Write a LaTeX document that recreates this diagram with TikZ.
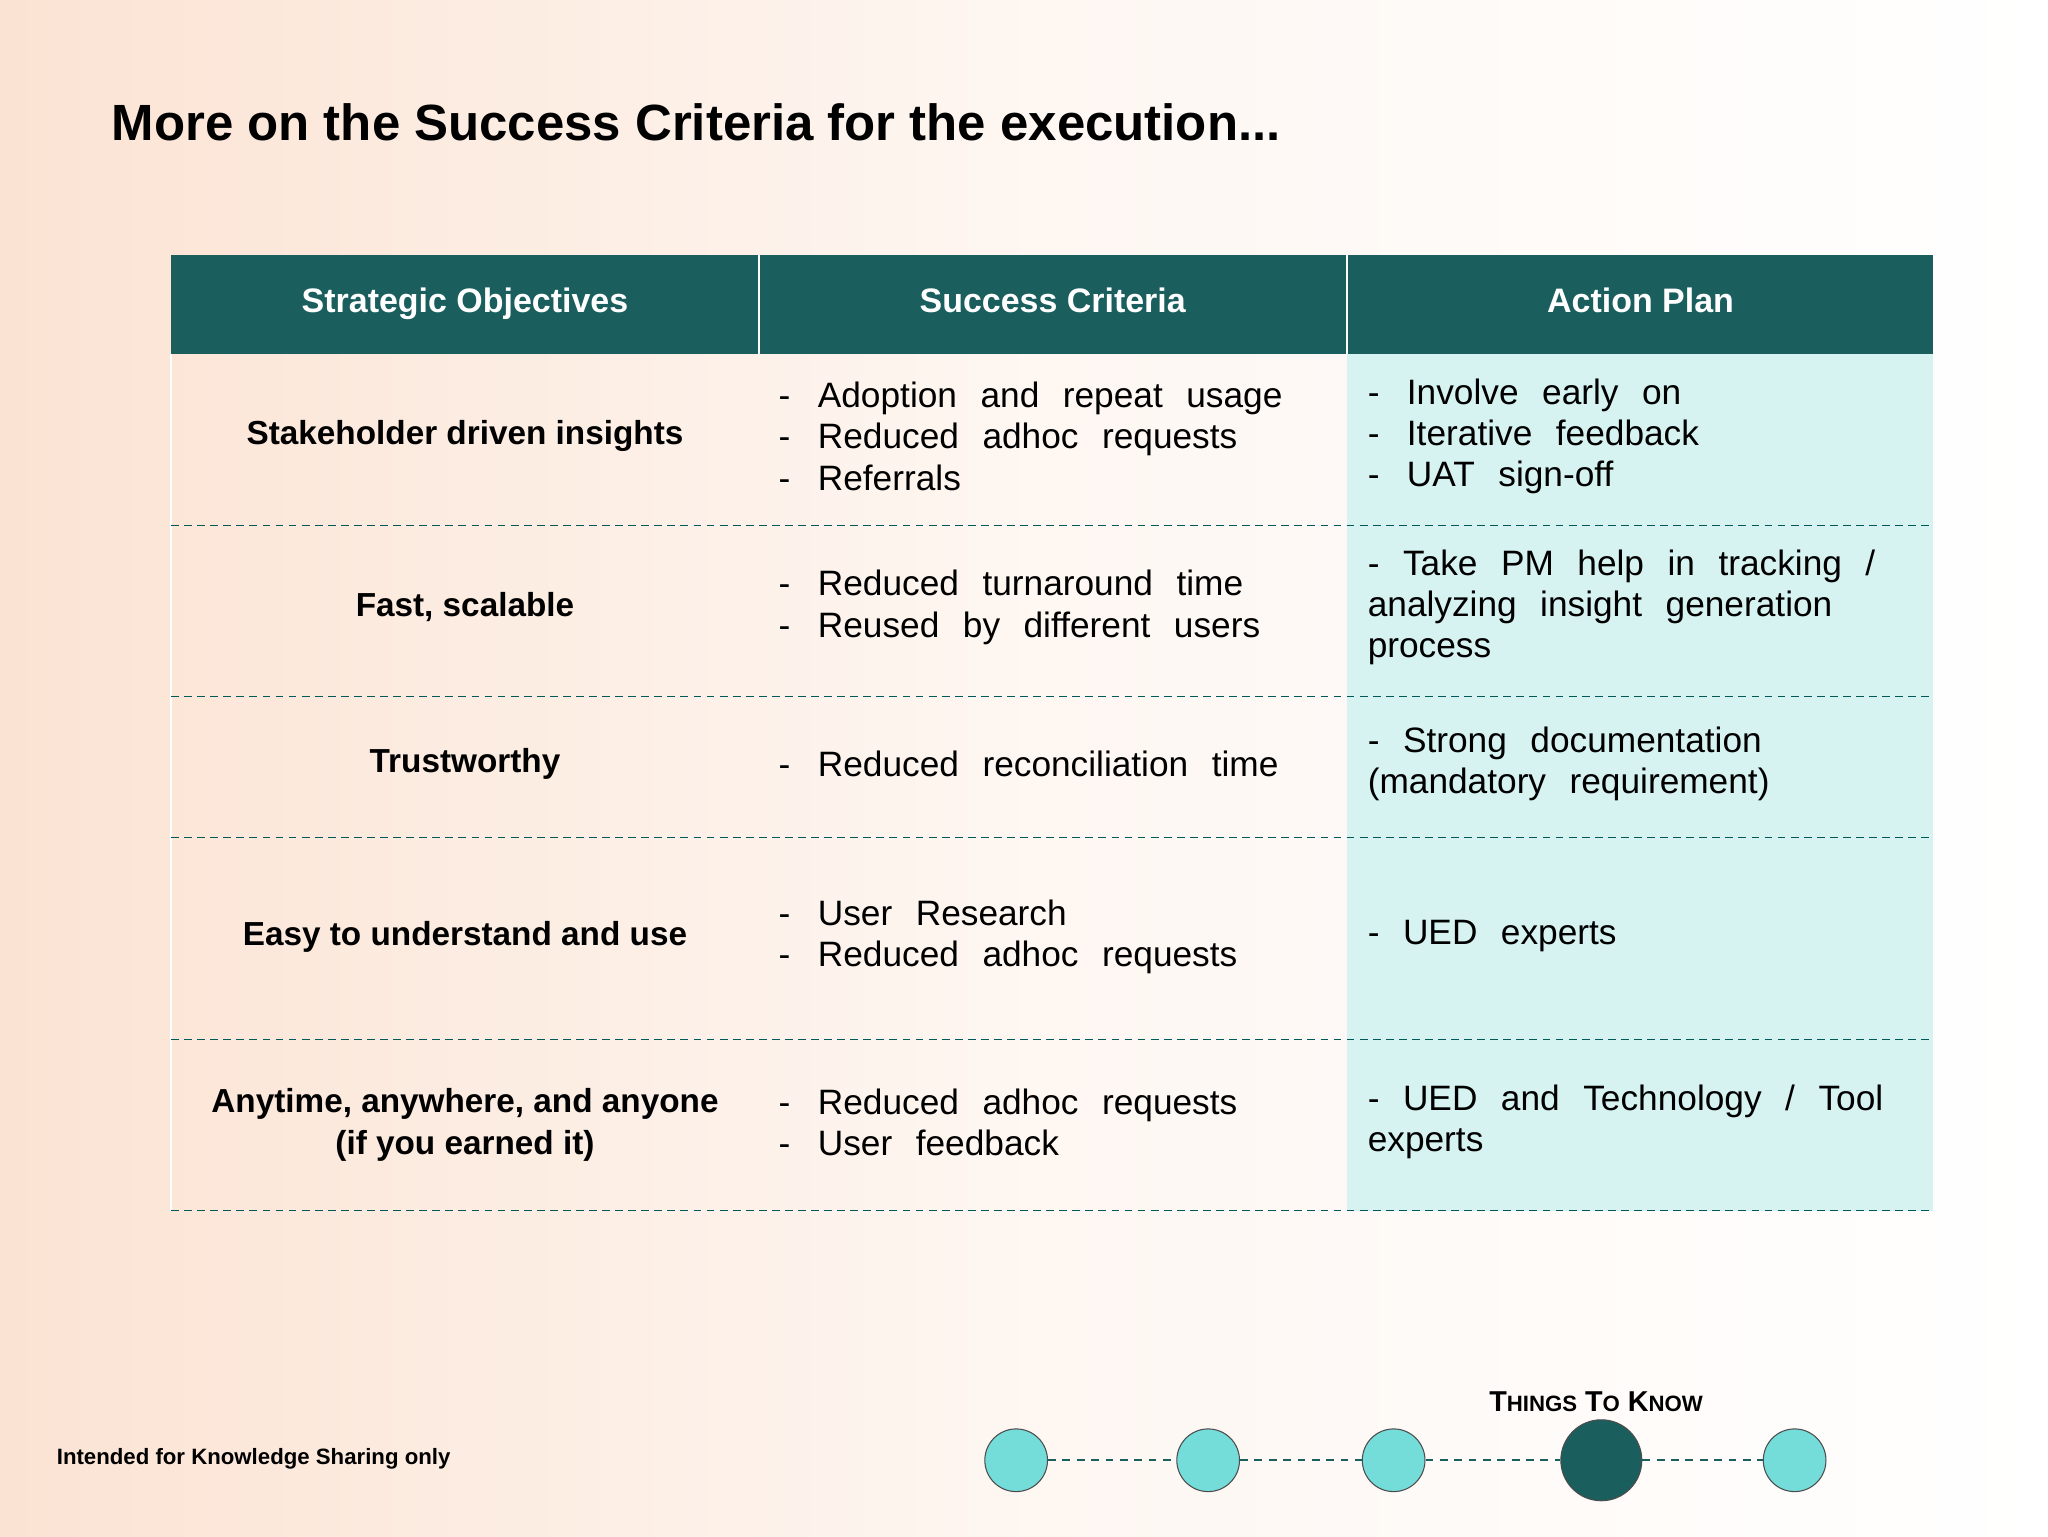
\documentclass[tikz,border=0pt]{standalone}
\usepackage{fontspec}
\setmainfont{Liberation Sans}
\begin{document}
\begin{tikzpicture}[x=1pt,y=-1pt,
  hdr/.style={font=\fontsize{26}{30}\selectfont\bfseries,text=white,text depth=0pt,anchor=base},
  obj/.style={font=\fontsize{25.5}{32}\selectfont\bfseries,align=center},
  item/.style={font=\fontsize{27}{31.5}\selectfont,align=left,anchor=west,text width=#1,inner sep=0pt},
  item/.default=400pt,
  sep/.style={draw=teal!70!black,dash pattern=on 6pt off 4pt,line width=0.8pt},
  dot/.style={circle,draw=black!70,fill=cyan!45!teal!40,minimum size=48pt,inner sep=0pt,line width=0.8pt}]
\definecolor{peach}{HTML}{FBE3D3}
\definecolor{dteal}{HTML}{1A5F5E}
\definecolor{lcyan}{HTML}{D6F3F2}
\definecolor{mcyan}{HTML}{74DCD9}
\shade[left color=peach,right color=white,middle color=peach!30] (0,0) rectangle (1568,1176);
\useasboundingbox (0,0) rectangle (1568,1176);
\node[anchor=west,font=\fontsize{39}{44}\selectfont\bfseries] (title) at (82,94) {More on the Success Criteria for the execution...};
% header
\fill[dteal] (131,195) rectangle (1480,271);
\draw[white,line width=1.5pt] (581,195) -- (581,271) (1031,195) -- (1031,271);
\node[hdr] (h1) at (356,239) {Strategic Objectives};
\node[hdr] (h2) at (806,239) {Success Criteria};
\node[hdr] (h3) at (1256,239) {Action Plan};
\fill[lcyan] (1031,271) rectangle (1480,927);
\draw[white,line width=1.5pt] (131,271) -- (131,927);
\foreach \y in {402,533,641,796,927} \draw[sep] (131,\y) -- (1480,\y);
% rows
\node[obj] (o1) at (356,334) {Stakeholder driven insights};
\node[obj] (o2) at (356,465) {Fast, scalable};
\node[obj] (o3) at (356,585) {Trustworthy};
\node[obj] (o4) at (356,717) {Easy to understand and use};
\node[obj] (o5) at (356,861) {Anytime, anywhere, and anyone\\(if you earned it)};
\node[item] (s1) at (596,334) {-\hspace{21pt}Adoption \ and \ repeat \ usage\\-\hspace{21pt}Reduced \ adhoc \ requests\\-\hspace{21pt}Referrals};
\node[item] (s2) at (596,465) {-\hspace{21pt}Reduced \ turnaround \ time\\-\hspace{21pt}Reused \ by \ different \ users};
\node[item] (s3) at (596,585) {-\hspace{21pt}Reduced \ reconciliation \ time};
\node[item] (s4) at (596,717) {-\hspace{21pt}User \ Research\\-\hspace{21pt}Reduced \ adhoc \ requests};
\node[item] (s5) at (596,859) {-\hspace{21pt}Reduced \ adhoc \ requests\\-\hspace{21pt}User \ feedback};
\node[item] (a1) at (1047,334) {-\hspace{21pt}Involve \ early \ on\\-\hspace{21pt}Iterative \ feedback\\-\hspace{21pt}UAT \ sign-off};
\node[item=420pt] (a2) at (1047,465) {- \ Take \ PM \ help \ in \ tracking \ /\\analyzing \ insight \ generation\\process};
\node[item] (a3) at (1047,585) {- \ Strong \ documentation\\(mandatory \ requirement)};
\node[item] (a4) at (1047,717) {- \ UED \ experts};
\node[item=420pt] (a5) at (1047,859) {- \ UED \ and \ Technology \ / \ Tool\\experts};
% footer
\node[anchor=west,font=\fontsize{17}{20}\selectfont\bfseries] (foot) at (40,1117) {Intended for Knowledge Sharing only};
\node[font=\fontsize{22}{24}\selectfont\bfseries] (ttk) at (1222,1073) {T{\fontsize{17}{20}\selectfont HINGS} T{\fontsize{17}{20}\selectfont O} K{\fontsize{17}{20}\selectfont NOW}};
\node[dot,fill=mcyan] (c1) at (778,1118) {};
\node[dot,fill=mcyan] (c2) at (925,1118) {};
\node[dot,fill=mcyan] (c3) at (1067,1118) {};
\node[dot,fill=dteal,minimum size=62pt] (c4) at (1226,1118) {};
\node[dot,fill=mcyan] (c5) at (1374,1118) {};
\draw[dash pattern=on 6pt off 5pt,line width=1.2pt,dteal] (c1) -- (c2) (c2) -- (c3) (c3) -- (c4) (c4) -- (c5);
\end{tikzpicture}
\end{document}
